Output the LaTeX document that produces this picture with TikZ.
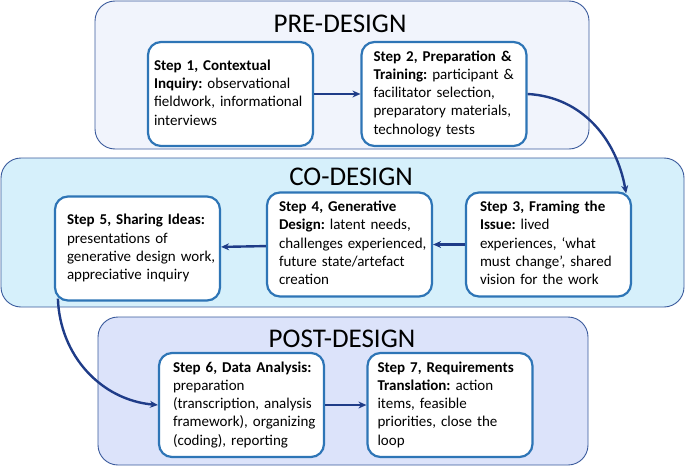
\documentclass[tikz,border=0pt]{standalone}
\usepackage{fontspec}
\setmainfont{Carlito}
\usetikzlibrary{arrows.meta}
\definecolor{stepblue}{HTML}{2E75B6}
\definecolor{framblue}{HTML}{3A5A9C}
\definecolor{arrnavy}{HTML}{1F3C88}
\definecolor{prefill}{HTML}{F1F4FC}
\definecolor{cofill}{HTML}{D6F0FB}
\definecolor{postfill}{HTML}{DCE3FA}
\newcommand{\steplines}[1]{\begin{tabular}{@{}l@{}}#1\end{tabular}}
\tikzset{
  phase/.style={draw=framblue,line width=0.9pt,rounded corners=20pt},
  phasetitle/.style={anchor=base,font=\fontsize{27}{30}\selectfont},
  stepbox/.style={draw=stepblue,line width=2.2pt,fill=white,rounded corners=13pt,
    align=left,text width=141pt,inner xsep=12pt,minimum height=104pt,
    font=\fontsize{15}{18.3}\selectfont\frenchspacing},
  flow/.style={draw=arrnavy,line width=2.4pt,-{Stealth[length=8pt,width=7pt]}}
}
\begin{document}
\begin{tikzpicture}[x=1pt,y=1pt]
\useasboundingbox (0,0) rectangle (685,467);

% Phases
\node[phase,fill=prefill,minimum width=494pt,minimum height=148pt] (pre) at (342,392) {};
\node[phase,fill=cofill,minimum width=683pt,minimum height=149pt] (co) at (342.5,234.5) {};
\node[phase,fill=postfill,minimum width=490pt,minimum height=148pt] (post) at (343,76) {};
\node[phasetitle] (pretitle) at (340,434) {PRE-DESIGN};
\node[phasetitle] (cotitle) at (351,282) {CO-DESIGN};
\node[phasetitle] (posttitle) at (342,120) {POST-DESIGN};

% Steps
\node[stepbox,inner xsep=6pt,text width=153pt] (s1) at (230.5,373) {\steplines{\textbf{Step 1, Contextual}\\\textbf{Inquiry:} observational\\fieldwork, informational\\interviews}};
\node[stepbox] (s2) at (444,373) {\steplines{\textbf{Step 2, Preparation \&}\\\textbf{Training:} participant \&\\facilitator selection,\\preparatory materials,\\technology tests}};
\node[stepbox,inner xsep=14pt,text width=137pt] (s3) at (548.5,222.5) {\steplines{\textbf{Step 3, Framing the}\\\textbf{Issue:} lived\\experiences, ‘what\\must change’, shared\\vision for the work}};
\node[stepbox] (s4) at (349.5,222.5) {\steplines{\textbf{Step 4, Generative}\\\textbf{Design:} latent needs,\\challenges experienced,\\future state/artefact\\creation}};
\node[stepbox] (s5) at (137.5,218.5) {\steplines{\textbf{Step 5, Sharing Ideas:}\\presentations of\\generative design work,\\appreciative inquiry}};
\node[stepbox,inner xsep=14pt,text width=137pt] (s6) at (241.5,62) {\steplines{\textbf{Step 6, Data Analysis:}\\preparation\\(transcription, analysis\\framework), organizing\\(coding), reporting}};
\node[stepbox,inner xsep=10pt,text width=145pt] (s7) at (450,62) {\steplines{\textbf{Step 7, Requirements}\\\textbf{Translation:} action\\items, feasible\\priorities, close the\\loop}};

% Flow
\draw[flow] (s1) -- (s2);
\draw[flow] (s2.east) to[out=-3,in=100] ([xshift=-6pt,yshift=-2pt]s3.north east);
\draw[flow] (s3) -- (s4);
\draw[flow] (s4) -- (s5);
\draw[flow] ([xshift=4pt,yshift=3pt]s5.south west) to[out=-88,in=175] (s6.west);
\draw[flow] (s6) -- (s7);

\end{tikzpicture}
\end{document}
